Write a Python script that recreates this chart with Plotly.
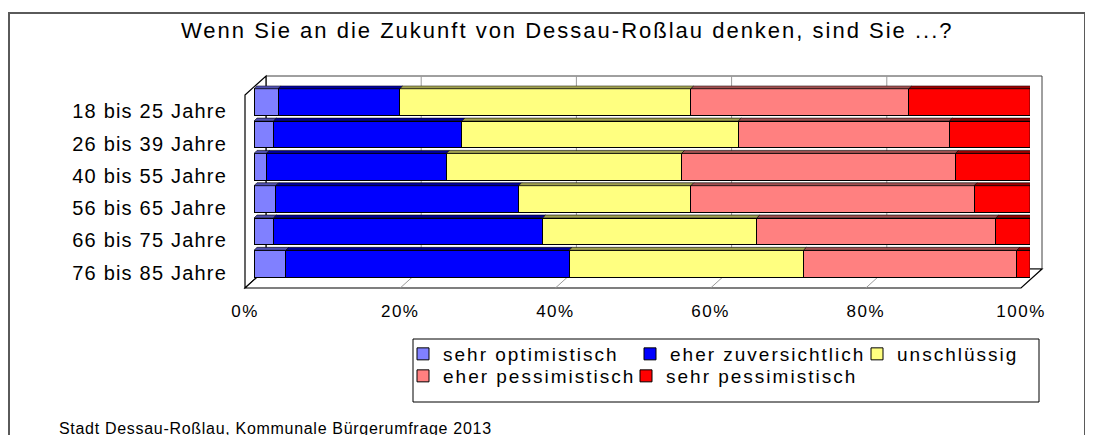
import plotly.graph_objects as go

# ---------------- data ----------------
age_groups = ["18 bis 25 Jahre", "26 bis 39 Jahre", "40 bis 55 Jahre",
              "56 bis 65 Jahre", "66 bis 75 Jahre", "76 bis 85 Jahre"]
sehr_optimistisch = [3.1, 2.5, 1.6, 2.8, 2.5, 4.1]
eher_zuversichtlich = [15.7, 24.3, 23.2, 31.3, 34.7, 36.5]
unschluessig = [37.5, 35.6, 30.3, 22.2, 27.6, 30.2]
eher_pessimistisch = [28.1, 27.2, 35.3, 36.5, 30.8, 27.5]
sehr_pessimistisch = [15.6, 10.4, 9.6, 7.2, 4.4, 1.7]
tick_values = [0, 20, 40, 60, 80, 100]
tick_labels = ["0%", "20%", "40%", "60%", "80%", "100%"]

series = [
    ("sehr optimistisch", sehr_optimistisch, "#8080FF", "#5050B0", "legend"),
    ("eher zuversichtlich", eher_zuversichtlich, "#0000FF", "#00009A", "legend"),
    ("unschlüssig", unschluessig, "#FFFF80", "#A0A050", "legend"),
    ("eher pessimistisch", eher_pessimistisch, "#FF8080", "#A05050", "legend2"),
    ("sehr pessimistisch", sehr_pessimistisch, "#FF0000", "#9A0000", "legend3"),
]

# ---------------- layout helpers (screen pixel -> paper) ----------------
W, H = 1093, 435
OFF = 8  # page body margin
FONT = "Liberation Sans, Arial, sans-serif"


def px(x):
    return (x - OFF) / W


def py(y):
    return 1 - (y - OFF) / H


def spaced(text, ls):
    return f'<span style="letter-spacing:{ls}px">{text}</span>'


fig = go.Figure()
for name, vals, col, top, lg in series:
    fig.add_trace(go.Bar(
        y=age_groups, x=vals, name=spaced(name, 2.0), orientation="h",
        marker=dict(color=col, line=dict(color="#000000", width=1)),
        legend=lg,
    ))

# 3D frame geometry (screen pixels)
XF0, XF1 = 245, 1021        # front floor edge (0% .. 100%)
DX, DY = 21, 19             # depth offset
XB0, XB1 = XF0 + DX, XF1 + DX
Y_TOP_BACK = 76
Y_FLOOR_BACK = 269
Y_FLOOR_FRONT = Y_FLOOR_BACK + DY

shapes = []
# outer frame
shapes.append(dict(type="rect", xref="paper", yref="paper",
                   x0=px(9), x1=px(1085), y0=py(470), y1=py(13),
                   line=dict(color="#5a5a5a", width=2), layer="below"))
# back wall
shapes.append(dict(type="rect", xref="paper", yref="paper",
                   x0=px(XB0), x1=px(XB1), y0=py(Y_FLOOR_BACK), y1=py(Y_TOP_BACK),
                   line=dict(color="#404040", width=1), fillcolor="white", layer="below"))
# left wall
shapes.append(dict(type="path", xref="paper", yref="paper",
                   path=f"M{px(XF0)},{py(Y_TOP_BACK+DY)} L{px(XB0)},{py(Y_TOP_BACK)} "
                        f"L{px(XB0)},{py(Y_FLOOR_BACK)} L{px(XF0)},{py(Y_FLOOR_FRONT)} Z",
                   line=dict(color="#000000", width=1.2), fillcolor="white", layer="below"))
# floor
shapes.append(dict(type="path", xref="paper", yref="paper",
                   path=f"M{px(XF0)},{py(Y_FLOOR_FRONT)} L{px(XB0)},{py(Y_FLOOR_BACK)} "
                        f"L{px(XB1)},{py(Y_FLOOR_BACK)} L{px(XF1)},{py(Y_FLOOR_FRONT)} Z",
                   line=dict(color="#000000", width=1.2), fillcolor="white", layer="below"))
# gridlines on back wall and floor
for v in tick_values[1:-1]:
    xb = XB0 + v / 100 * (XB1 - XB0)
    shapes.append(dict(type="line", xref="paper", yref="paper",
                       x0=px(xb), x1=px(xb), y0=py(Y_TOP_BACK), y1=py(Y_FLOOR_BACK),
                       line=dict(color="#9a9a9a", width=1), layer="below"))
    shapes.append(dict(type="line", xref="paper", yref="paper",
                       x0=px(xb), x1=px(xb - DX), y0=py(Y_FLOOR_BACK), y1=py(Y_FLOOR_FRONT),
                       line=dict(color="#9a9a9a", width=1), layer="below"))
# legend box
shapes.append(dict(type="rect", xref="paper", yref="paper",
                   x0=px(413), x1=px(1039), y0=py(402), y1=py(339),
                   line=dict(color="#000000", width=1), fillcolor="white", layer="below"))

# 3D top faces of bar segments (derived from the data, in axis units)
BARGAP = 0.17
half = (1 - BARGAP) / 2
ddx = 3 / 776 * 100      # 3 px depth in x units
ddy = 3 / 32.4           # 3 px depth in category units
for i in range(len(age_groups)):
    left = 0.0
    for name, vals, col, top, lg in series:
        right = left + vals[i]
        yt = i - half
        shapes.append(dict(type="path", xref="x", yref="y",
                           path=f"M{left},{yt} L{left+ddx},{yt-ddy} L{right+ddx},{yt-ddy} L{right},{yt} Z",
                           fillcolor=top, line=dict(color="#000000", width=0.6)))
        left = right
    yb = i + half
    shapes.append(dict(type="path", xref="x", yref="y",
                       path=f"M{left},{i-half} L{left+ddx},{i-half-ddy} L{left+ddx},{yb-ddy} L{left},{yb} Z",
                       fillcolor="#7a0000", line=dict(color="#000000", width=0.6)))

legend_common = dict(orientation="h", xanchor="left", yanchor="top",
                     bgcolor="rgba(0,0,0,0)", borderwidth=0,
                     font=dict(size=19, family=FONT), traceorder="normal", itemclick=False)

row_top, row_bot = 85.5, 279.9
fig.update_layout(
    width=W, height=H,
    margin=dict(l=0, r=0, t=0, b=0, autoexpand=False),
    paper_bgcolor="white", plot_bgcolor="rgba(0,0,0,0)",
    barmode="stack", bargap=BARGAP,
    font=dict(family=FONT, color="#000000"),
    xaxis=dict(domain=[px(254), px(1030)], range=[0, 100],
               tickmode="array", tickvals=tick_values,
               ticktext=[spaced(t, 1.5) for t in tick_labels], showgrid=False,
               zeroline=False, showline=False, ticks="", automargin=False,
               tickfont=dict(size=17, family=FONT),
               ticklabelstandoff=19, ticklabelshift=-9),
    yaxis=dict(domain=[py(row_bot), py(row_top)], autorange="reversed",
               tickmode="array", tickvals=age_groups,
               ticktext=[spaced(a, 1.2) for a in age_groups],
               showgrid=False, zeroline=False, showline=False, ticks="", automargin=False,
               tickfont=dict(size=20, family=FONT),
               ticklabelstandoff=26, ticklabelshift=-9),
    shapes=shapes,
    legend=dict(x=px(403), y=py(335), entrywidth=182, **legend_common),
    legend2=dict(x=px(403), y=py(357), **legend_common),
    legend3=dict(x=px(626), y=py(357), **legend_common),
    annotations=[
        dict(text=spaced("Wenn Sie an die Zukunft von Dessau-Roßlau denken, sind Sie ...?", 2.0),
             x=px(567), y=py(31), xref="paper", yref="paper", showarrow=False,
             xanchor="center", yanchor="middle", font=dict(size=22, family=FONT)),
        dict(text=spaced("Stadt Dessau-Roßlau, Kommunale Bürgerumfrage 2013", 0.7),
             x=px(57), y=py(428), xref="paper", yref="paper", showarrow=False,
             xanchor="left", yanchor="middle", font=dict(size=16, family=FONT)),
    ],
)

fig.write_html("out.html")
